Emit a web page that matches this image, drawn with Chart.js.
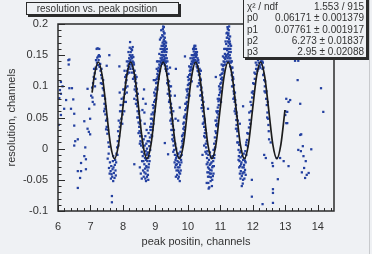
<!DOCTYPE html>
<html>
<head>
<meta charset="utf-8">
<script src="https://cdn.jsdelivr.net/npm/chart.js@4/dist/chart.umd.min.js"></script>
<style>
  html, body { margin: 0; padding: 0; background: #eff1f4; }
  canvas { display: block; }
</style>
</head>
<body>
<canvas id="chart" width="372" height="254"></canvas>
<script>
// axis ticks
const xTickValues = [6, 7, 8, 9, 10, 11, 12, 13, 14];
const yTickValues = [-0.1, -0.05, 0, 0.05, 0.1, 0.15, 0.2];

// fit box
const statNames = ['χ² / ndf', 'p0', 'p1', 'p2', 'p3'];
const statValues = ['1.553 / 915', '0.06171 ± 0.001379', '0.07761 ± 0.001917', '6.273 ± 0.01837', '2.95 ± 0.02088'];

// fitted curve
const curveX = [7.05, 7.115, 7.24, 7.365, 7.49, 7.615, 7.74, 7.865, 7.99,
  8.115, 8.24, 8.365, 8.49, 8.615, 8.74, 8.865, 8.99,
  9.115, 9.24, 9.365, 9.49, 9.615, 9.74, 9.865, 9.99,
  10.115, 10.24, 10.365, 10.49, 10.615, 10.74, 10.865, 10.99,
  11.115, 11.24, 11.365, 11.49, 11.615, 11.74, 11.865, 11.99,
  12.115, 12.24, 12.365, 12.49, 12.615, 12.74, 12.865, 12.99];
const curveY = [0.090, 0.116, 0.139, 0.116, 0.062, 0.007, -0.016, 0.007, 0.062,
  0.116, 0.139, 0.116, 0.062, 0.007, -0.016, 0.007, 0.062,
  0.116, 0.139, 0.116, 0.062, 0.007, -0.016, 0.007, 0.062,
  0.116, 0.139, 0.116, 0.062, 0.007, -0.016, 0.007, 0.062,
  0.116, 0.139, 0.116, 0.062, 0.007, -0.016, 0.007, 0.062,
  0.116, 0.139, 0.116, 0.062, 0.007, -0.016, 0.007, 0.062];

// measured points, grouped by region
const tailLeft = [[6.02,0.038],[6.04,0.081],[6.06,0.094],[6.09,0.088],[6.09,0.107],[6.14,0.100],[6.09,0.054],[6.19,0.064],
  [6.25,0.078],[6.32,0.142],[6.33,0.135],[6.35,0.143],[6.35,0.097],[6.40,0.064],[6.43,0.097],[6.47,0.079],[6.50,0.056],
  [6.50,0.037],[6.50,0.005],[6.53,0.012],[6.61,0.015],[6.61,-0.036],[6.61,-0.063],[6.68,-0.047],[6.71,-0.023],[6.71,-0.036],
  [6.81,0.044],[6.81,-0.012],[6.84,0.002],[6.86,-0.017],[6.86,-0.033],[6.91,0.032],[6.91,0.096],[6.95,0.027],[6.96,0.064],
  [6.99,0.023],[6.99,0.048],[7.07,0.075],[7.12,0.071]];

const cycle7 = [[7.05,0.098],[7.08,0.105],[7.10,0.115],[7.13,0.121],[7.15,0.112],[7.16,0.130],[7.18,0.128],[7.19,0.160],
  [7.20,0.138],[7.21,0.146],[7.22,0.161],[7.23,0.134],[7.24,0.148],[7.25,0.142],[7.26,0.150],[7.27,0.160],[7.28,0.131],
  [7.30,0.136],[7.31,0.125],[7.33,0.118],[7.35,0.113],[7.36,0.104],[7.38,0.097],[7.40,0.085],[7.41,0.094],[7.43,0.072],
  [7.44,0.064],[7.46,0.055],[7.48,0.031],[7.48,0.045],[7.50,0.133],[7.50,0.035],[7.52,0.024],[7.53,-0.016],[7.55,0.010],
  [7.57,0.003],[7.58,0.150],[7.57,-0.031],[7.60,-0.022],[7.62,-0.036],[7.64,-0.028],[7.65,-0.041],[7.66,-0.076],
  [7.66,-0.086],[7.67,-0.045],[7.68,-0.033],[7.70,-0.052],[7.70,-0.012],[7.72,-0.039],[7.74,-0.047],[7.75,-0.026],
  [7.76,-0.018],[7.78,-0.043],[7.80,-0.008],[7.82,0.002],[7.84,0.012],[7.86,0.005],[7.89,0.132],[7.88,0.020],[7.90,0.035],
  [7.92,0.041],[7.90,0.090],
  [7.02,0.085],[7.06,0.082],[7.11,0.128],[7.14,0.100],[7.17,0.142],[7.29,0.148],[7.32,0.105],[7.34,0.128],[7.37,0.085],
  [7.39,0.110],[7.42,0.060],[7.45,0.080],[7.47,0.068],[7.51,0.048],[7.54,0.030],[7.56,-0.008],[7.59,-0.040],[7.63,-0.048],
  [7.69,-0.020],[7.71,-0.030],[7.77,-0.035],[7.79,-0.022],[7.83,-0.010],[7.85,0.028],[7.87,0.045],[7.91,0.060],[7.93,0.070]];

const cycle8 = [[7.95,0.048],[7.97,0.060],[7.99,0.055],[8.00,0.070],[8.02,0.082],[8.03,0.075],[8.05,0.095],[8.06,0.088],
  [8.08,0.106],[8.09,0.098],[8.10,0.118],[8.11,0.110],[8.13,0.125],[8.14,0.120],[8.15,0.133],[8.16,0.128],[8.17,0.140],
  [8.18,0.136],[8.19,0.145],[8.20,0.131],[8.21,0.150],[8.22,0.171],[8.22,0.139],[8.23,0.142],[8.24,0.155],[8.25,0.148],
  [8.25,0.135],[8.26,0.146],[8.27,0.138],[8.28,0.158],[8.28,0.145],[8.29,0.132],[8.30,0.163],[8.30,0.140],[8.31,0.128],
  [8.32,0.147],[8.33,0.122],[8.34,0.135],[8.35,0.115],[8.36,0.125],[8.37,0.108],[8.38,0.100],[8.39,0.112],[8.40,0.092],
  [8.41,0.085],[8.42,0.078],[8.43,0.096],[8.44,0.068],[8.45,0.060],[8.46,0.074],[8.47,0.050],[8.48,0.042],[8.49,0.056],
  [8.50,0.035],[8.51,0.028],[8.52,0.040],[8.53,0.020],[8.54,0.012],[8.55,0.025],[8.56,0.005],[8.05,0.125],[8.12,0.090],
  [8.35,0.080],[8.42,0.115],[8.60,0.062],[8.62,0.080],[8.65,0.095],[8.66,0.058],[8.70,0.072],
  [8.58,-0.005],[8.60,0.010],[8.61,-0.012],[8.62,0.002],[8.63,-0.020],[8.64,0.015],[8.65,-0.008],[8.66,-0.025],[8.67,0.005],
  [8.68,-0.015],[8.68,-0.032],[8.69,0.020],[8.70,-0.004],[8.70,-0.040],[8.71,-0.018],[8.72,0.008],[8.72,-0.028],[8.73,-0.010],
  [8.74,-0.045],[8.74,0.000],[8.75,-0.020],[8.76,-0.035],[8.76,0.012],[8.77,-0.006],[8.78,-0.015],[8.78,-0.050],[8.79,0.025],
  [8.80,-0.025],[8.81,0.004],[8.82,-0.012],[8.83,0.018],[8.84,-0.002],[8.85,0.030],[8.86,0.010],[8.87,0.040],[8.88,0.022],
  [8.52,-0.030],[8.55,-0.040],[8.58,-0.048],[8.35,-0.025],
  [7.96,0.080],[7.98,0.040],[8.01,0.095],[8.04,0.060],[8.07,0.115],[8.09,0.075],[8.12,0.140],[8.14,0.100],[8.17,0.155],
  [8.19,0.122],[8.21,0.162],[8.23,0.128],[8.26,0.160],[8.27,0.122],[8.29,0.150],[8.31,0.112],[8.33,0.138],[8.36,0.095],
  [8.38,0.118],[8.40,0.072],[8.41,0.105],[8.44,0.050],[8.46,0.088],[8.48,0.025],[8.50,0.060],[8.52,0.008],[8.54,0.045],
  [8.57,0.020],[8.59,-0.020],[8.62,-0.035],[8.64,-0.045],[8.66,-0.038],[8.69,-0.048],[8.71,-0.052],[8.73,-0.030],
  [8.75,-0.008],[8.77,-0.042],[8.79,-0.030],[8.80,0.012],[8.82,-0.020],[8.84,0.035],[8.86,0.048],[8.88,0.055],[8.73,0.030],
  [8.67,0.040]];

const cycle9 = [[8.89,0.035],[8.90,0.048],[8.91,0.030],[8.92,0.058],[8.93,0.045],[8.94,0.065],[8.95,0.055],[8.96,0.075],
  [8.97,0.068],[8.98,0.085],[8.99,0.078],[9.00,0.095],[9.01,0.088],[9.02,0.105],[9.03,0.098],[9.04,0.112],[9.05,0.106],
  [9.06,0.120],[9.07,0.115],[9.08,0.125],[9.09,0.118],[9.10,0.130],[9.11,0.124],[9.12,0.135],[9.13,0.128],[9.14,0.140],
  [9.15,0.133],[9.16,0.145],[9.17,0.138],[9.18,0.150],[9.19,0.142],[9.20,0.155],[9.20,0.136],[9.21,0.160],[9.21,0.146],
  [9.22,0.170],[9.22,0.140],[9.23,0.165],[9.23,0.150],[9.24,0.196],[9.24,0.180],[9.24,0.143],[9.25,0.188],[9.25,0.158],
  [9.25,0.137],[9.26,0.175],[9.26,0.148],[9.27,0.168],[9.27,0.140],[9.28,0.185],[9.28,0.155],[9.29,0.162],[9.29,0.134],
  [9.30,0.172],[9.30,0.145],[9.31,0.150],[9.31,0.128],[9.32,0.165],[9.32,0.138],[9.33,0.140],[9.34,0.155],[9.34,0.125],
  [9.35,0.132],[9.36,0.118],[9.37,0.128],[9.38,0.110],[9.39,0.120],[9.40,0.102],[9.41,0.095],[9.42,0.108],[9.43,0.085],
  [9.44,0.078],[9.45,0.092],[9.46,0.066],[9.47,0.058],[9.48,0.072],[9.49,0.048],[9.50,0.040],[9.51,0.055],[9.52,0.030],
  [9.53,0.022],[9.54,0.036],[9.55,0.012],[9.56,0.005],[9.57,0.018],[9.14,0.175],[9.18,0.190],[9.35,0.160],[9.45,0.130],
  [9.05,0.140],[8.95,0.110],[9.48,0.100],[9.55,0.060],[9.63,0.128],[9.60,0.085],[9.62,0.048],
  [9.58,-0.002],[9.60,-0.010],[9.61,0.008],[9.62,-0.018],[9.63,-0.026],[9.64,0.000],[9.65,-0.035],[9.66,-0.012],
  [9.67,-0.042],[9.68,-0.020],[9.69,-0.030],[9.70,-0.048],[9.71,-0.008],[9.72,-0.022],[9.73,-0.038],[9.74,-0.014],
  [9.75,-0.052],[9.76,-0.026],[9.77,-0.005],[9.78,-0.035],[9.79,-0.018],[9.80,0.002],[9.81,-0.010],[9.82,0.012],
  [9.83,0.004],[9.84,0.022],[9.85,0.015],[9.86,0.032],[9.87,0.025],[9.29,0.009],[9.39,-0.009],[9.75,0.066],[9.70,0.045],
  [8.90,0.020],[8.92,0.070],[8.94,0.040],[8.96,0.090],[8.98,0.060],[9.00,0.110],[9.02,0.080],[9.04,0.128],[9.06,0.095],
  [9.08,0.140],[9.10,0.112],[9.12,0.152],[9.14,0.125],[9.16,0.160],[9.17,0.178],[9.19,0.165],[9.21,0.182],[9.22,0.155],
  [9.23,0.192],[9.24,0.165],[9.25,0.172],[9.26,0.195],[9.26,0.160],[9.27,0.185],[9.28,0.142],[9.29,0.178],[9.30,0.158],
  [9.31,0.165],[9.32,0.150],[9.33,0.170],[9.33,0.125],[9.35,0.145],[9.36,0.105],[9.37,0.140],[9.38,0.088],[9.40,0.120],
  [9.42,0.075],[9.44,0.100],[9.46,0.045],[9.47,0.085],[9.49,0.030],[9.50,0.065],[9.52,0.015],[9.53,0.045],[9.55,-0.005],
  [9.57,0.030],[9.59,-0.022],[9.61,-0.030],[9.63,-0.045],[9.64,-0.015],[9.66,-0.025],[9.68,-0.008],[9.70,-0.035],
  [9.72,-0.045],[9.74,-0.030],[9.76,-0.040],[9.78,-0.012],[9.80,-0.022],[9.82,0.020],[9.84,0.008],[9.86,0.040],[9.88,0.050]];

const cycle10 = [[9.88,0.042],[9.89,0.035],[9.90,0.052],[9.91,0.148],[9.92,0.062],[9.93,0.055],[9.94,0.072],[9.95,0.065],
  [9.96,0.082],[9.97,0.075],[9.98,0.092],[9.99,0.086],[10.00,0.102],[10.01,0.096],[10.02,0.110],[10.03,0.104],[10.04,0.118],
  [10.05,0.112],[10.06,0.125],[10.07,0.120],[10.08,0.130],[10.09,0.126],[10.10,0.136],[10.11,0.131],[10.12,0.140],
  [10.13,0.135],[10.14,0.145],[10.15,0.138],[10.16,0.150],[10.17,0.142],[10.18,0.156],[10.19,0.146],[10.20,0.165],
  [10.20,0.138],[10.21,0.152],[10.22,0.160],[10.23,0.142],[10.24,0.155],[10.25,0.147],[10.26,0.136],[10.27,0.150],
  [10.28,0.140],[10.29,0.130],[10.30,0.145],[10.31,0.132],[10.32,0.124],[10.33,0.138],[10.34,0.118],[10.35,0.126],
  [10.36,0.110],[10.37,0.120],[10.38,0.102],[10.39,0.112],[10.40,0.094],[10.41,0.086],[10.42,0.098],[10.43,0.078],
  [10.44,0.070],[10.45,0.082],[10.46,0.060],[10.47,0.052],[10.48,0.066],[10.49,0.042],[10.50,0.035],[10.51,0.048],
  [10.52,0.025],[10.53,0.018],[10.54,0.030],[10.55,0.008],[10.05,0.085],[10.30,0.100],[10.40,0.125],[10.62,0.064],[10.12,0.108],
  [10.56,0.002],[10.57,-0.008],[10.58,0.012],[10.59,-0.015],[10.60,-0.004],[10.61,-0.022],[10.62,-0.030],[10.63,-0.010],
  [10.64,-0.038],[10.65,-0.018],[10.66,-0.045],[10.67,-0.026],[10.68,-0.006],[10.69,-0.034],[10.70,-0.052],[10.71,-0.014],
  [10.72,-0.040],[10.73,-0.022],[10.74,-0.060],[10.75,-0.030],[10.76,-0.012],[10.77,-0.044],[10.78,-0.020],[10.79,-0.002],
  [10.80,-0.028],[10.81,0.008],[10.82,-0.010],[10.83,0.018],[10.84,0.002],[10.85,0.028],[10.86,0.012],[10.87,0.038],
  [10.64,-0.064],[10.58,-0.055],[10.50,0.020],[10.45,-0.010],
  [9.90,0.030],[9.92,0.072],[9.94,0.048],[9.96,0.095],[9.98,0.068],[10.00,0.115],[10.02,0.088],[10.04,0.132],[10.06,0.105],
  [10.08,0.145],[10.10,0.118],[10.12,0.150],[10.14,0.128],[10.16,0.160],[10.18,0.140],[10.19,0.162],[10.21,0.142],
  [10.22,0.150],[10.23,0.165],[10.25,0.160],[10.26,0.152],[10.27,0.132],[10.28,0.155],[10.30,0.125],[10.32,0.142],
  [10.34,0.105],[10.36,0.128],[10.38,0.085],[10.40,0.110],[10.42,0.065],[10.44,0.090],[10.46,0.040],[10.48,0.075],
  [10.50,0.005],[10.52,0.045],[10.54,-0.005],[10.56,0.025],[10.58,-0.025],[10.60,-0.038],[10.62,-0.045],[10.63,-0.055],
  [10.65,-0.032],[10.66,-0.062],[10.68,-0.040],[10.70,-0.024],[10.71,-0.046],[10.73,-0.035],[10.75,-0.050],[10.77,-0.028],
  [10.79,-0.040],[10.81,-0.015],[10.83,0.000],[10.85,0.045],[10.87,0.025]];

const cycle11 = [[10.86,0.115],[10.88,0.045],[10.89,0.036],[10.90,0.058],[10.91,0.050],[10.92,0.066],[10.93,0.060],
  [10.94,0.076],[10.95,0.070],[10.96,0.086],[10.97,0.080],[10.98,0.095],[10.99,0.090],[11.00,0.104],[11.01,0.098],
  [11.02,0.075],[11.02,0.112],[11.03,0.106],[11.04,0.120],[11.05,0.114],[11.06,0.127],[11.07,0.121],[11.08,0.133],
  [11.09,0.128],[11.10,0.140],[11.11,0.134],[11.12,0.146],[11.13,0.139],[11.14,0.152],[11.15,0.144],[11.16,0.160],
  [11.17,0.148],[11.18,0.168],[11.19,0.150],[11.20,0.178],[11.20,0.140],[11.21,0.186],[11.21,0.158],[11.22,0.195],
  [11.22,0.145],[11.23,0.172],[11.23,0.152],[11.24,0.182],[11.24,0.138],[11.25,0.165],[11.25,0.148],[11.26,0.190],
  [11.26,0.155],[11.27,0.176],[11.27,0.140],[11.28,0.160],[11.29,0.150],[11.30,0.168],[11.30,0.132],[11.31,0.145],
  [11.32,0.155],[11.33,0.128],[11.34,0.140],[11.35,0.118],[11.36,0.130],[11.37,0.110],[11.38,0.122],[11.39,0.100],
  [11.40,0.112],[11.41,0.092],[11.42,0.102],[11.43,0.082],[11.44,0.075],[11.45,0.090],[11.46,0.064],[11.47,0.056],
  [11.48,0.070],[11.49,0.046],[11.50,0.038],[11.51,0.052],[11.52,0.028],[11.53,0.020],[11.54,0.032],[11.55,0.010],
  [11.56,-0.002],[11.57,-0.012],[11.58,0.006],[11.59,-0.020],[11.60,-0.006],[11.61,-0.028],[11.62,-0.014],[11.63,-0.036],
  [11.64,-0.004],[11.65,-0.022],[11.66,-0.044],[11.67,-0.012],[11.68,-0.030],[11.69,-0.056],[11.70,-0.018],[11.71,-0.038],
  [11.72,-0.008],[11.73,-0.026],[11.74,-0.048],[11.75,-0.016],[11.76,-0.034],[11.77,-0.004],[11.78,-0.022],[11.79,0.006],
  [11.80,-0.010],[11.82,0.014],[11.84,0.004],[11.86,0.024],[11.97,-0.050],[11.97,-0.077],[11.70,0.068],[11.60,0.040],
  [10.88,0.060],[10.90,0.040],[10.92,0.080],[10.94,0.055],[10.96,0.100],[10.98,0.078],[11.00,0.118],[11.02,0.092],
  [11.04,0.135],[11.06,0.110],[11.08,0.148],[11.10,0.125],[11.12,0.160],[11.14,0.135],[11.16,0.172],[11.18,0.148],
  [11.19,0.185],[11.20,0.160],[11.22,0.178],[11.23,0.192],[11.24,0.160],[11.25,0.185],[11.26,0.170],[11.27,0.196],
  [11.28,0.145],[11.29,0.172],[11.30,0.180],[11.31,0.160],[11.32,0.138],[11.33,0.165],[11.35,0.140],[11.36,0.100],
  [11.37,0.130],[11.39,0.115],[11.40,0.080],[11.42,0.088],[11.44,0.060],[11.46,0.078],[11.48,0.032],[11.50,0.058],
  [11.52,0.010],[11.54,0.045],[11.56,-0.018],[11.58,-0.030],[11.60,-0.040],[11.62,-0.048],[11.64,-0.025],[11.66,-0.060],
  [11.68,-0.040],[11.70,-0.050],[11.72,-0.030],[11.74,-0.038],[11.76,-0.020],[11.78,-0.042],[11.80,0.010],[11.83,0.025]];

const cycle12 = [[11.88,0.034],[11.90,0.046],[11.92,0.040],[11.94,0.060],[11.96,0.070],[11.98,0.082],[12.00,0.092],
  [12.02,0.088],[12.04,0.104],[12.06,0.112],[12.08,0.120],[12.10,0.128],[12.12,0.134],[12.14,0.125],[12.16,0.142],
  [12.18,0.138],[12.20,0.150],[12.21,0.132],[12.22,0.145],[12.24,0.155],[12.25,0.140],[12.26,0.135],[12.28,0.148],
  [12.30,0.128],[12.32,0.118],[12.33,0.130],[12.35,0.110],[12.37,0.100],[12.39,0.090],[12.41,0.080],[12.43,0.070],
  [12.45,0.058],[12.47,0.048],[12.48,0.038],[12.50,0.015],[12.55,0.010],[12.35,-0.010],[12.40,-0.015],[12.60,-0.023],
  [12.62,-0.028],[12.74,-0.015],[12.77,-0.049],[12.62,-0.065],[12.62,-0.071],[12.30,-0.089],[12.62,-0.087],[12.84,-0.015],
  [12.95,-0.020],[13.10,-0.028],[13.03,0.041],[13.06,0.041],
  [11.89,0.058],[11.93,0.075],[11.97,0.090],[12.01,0.105],[12.05,0.122],[12.09,0.138],[12.13,0.150],[12.17,0.128],
  [12.19,0.155],[12.23,0.130],[12.27,0.155],[12.29,0.140],[12.31,0.138],[12.34,0.120],[12.36,0.092],[12.38,0.108],
  [12.42,0.092],[12.44,0.050],[12.46,0.075],[12.49,0.028]];

const tailRight = [[13.00,0.060],[13.00,0.054],[13.03,0.080],[13.06,0.059],[13.10,0.075],[13.15,0.078],[13.30,0.141],
  [13.40,0.141],[13.38,0.110],[13.46,0.072],[13.46,0.022],[13.49,0.023],[13.54,0.004],[13.48,-0.004],[13.80,-0.001],
  [13.56,-0.012],[13.63,-0.020],[13.58,-0.031],[13.51,-0.038],[13.72,-0.039],[13.61,-0.047],[13.66,-0.042],[14.10,0.097],
  [14.17,0.059],[13.40,-0.002]];

const bg = '#eff1f4';
const ink = '#2b2b2b';

const points = [].concat(tailLeft, cycle7, cycle8, cycle9, cycle10, cycle11, cycle12, tailRight)
  .map(p => ({ x: p[0], y: p[1] }));
const curve = curveX.map((x, i) => ({ x: x, y: curveY[i] }));

function shadowBox(ctx, x0, y0, x1, y1) {
  ctx.fillStyle = bg;
  ctx.fillRect(x0, y0, x1 - x0, y1 - y0);
  ctx.strokeStyle = ink;
  ctx.lineWidth = 1;
  ctx.strokeRect(x0 + 0.5, y0 + 0.5, x1 - x0 - 1, y1 - y0 - 1);
  ctx.fillStyle = ink;
  ctx.fillRect(x1, y0 + 2, 2, y1 - y0);
  ctx.fillRect(x0 + 2, y1, x1 - x0, 2);
}

const framePlugin = {
  id: 'frame',
  afterDatasetsDraw(chart) {
    const { ctx, chartArea: a, scales } = chart;
    const xs = scales.x, ys = scales.y;
    ctx.save();
    ctx.strokeStyle = ink;
    ctx.lineWidth = 1.5;
    ctx.strokeRect(a.left, a.top, a.right - a.left, a.bottom - a.top);
    ctx.lineWidth = 1;
    ctx.beginPath();
    for (let i = 0; i <= 42; i++) {
      const px = Math.round(xs.getPixelForValue(6 + i * 0.2)) + 0.5;
      const len = i % 5 === 0 ? 6 : 3;
      ctx.moveTo(px, a.bottom);
      ctx.lineTo(px, a.bottom - len);
    }
    for (let i = 0; i <= 30; i++) {
      const py = Math.round(ys.getPixelForValue(-0.1 + i * 0.01)) + 0.5;
      const len = i % 5 === 0 ? 7 : 3.5;
      ctx.moveTo(a.left, py);
      ctx.lineTo(a.left + len, py);
    }
    ctx.stroke();
    ctx.restore();
  },
  afterDraw(chart) {
    const ctx = chart.ctx;
    ctx.save();
    // title box
    shadowBox(ctx, 26, 2, 179, 15);
    ctx.fillStyle = '#333';
    ctx.font = '10px "Liberation Sans", Arial, sans-serif';
    ctx.textAlign = 'center';
    ctx.textBaseline = 'middle';
    ctx.fillText('resolution vs. peak position', 97, 9);
    // stats box
    shadowBox(ctx, 243, -2, 367, 58);
    ctx.fillStyle = '#333';
    statNames.forEach((name, i) => {
      const y = 7.5 + i * 11.2;
      ctx.textAlign = 'left';
      ctx.fillText(name, 247, y);
      ctx.textAlign = 'right';
      ctx.fillText(statValues[i], 364, y);
    });
    // canvas edge
    ctx.strokeStyle = '#c8cacd';
    ctx.beginPath();
    ctx.moveTo(369.5, 0);
    ctx.lineTo(369.5, 254);
    ctx.stroke();
    ctx.restore();
  }
};

const tickFont = { family: '"Liberation Sans", Arial, sans-serif', size: 11 };

new Chart(document.getElementById('chart'), {
  type: 'scatter',
  data: {
    datasets: [
      {
        label: 'fit',
        data: curve,
        showLine: true,
        borderColor: '#1c1c1c',
        borderWidth: 1.7,
        pointRadius: 0,
        cubicInterpolationMode: 'monotone',
        order: 0
      },
      {
        label: 'points',
        data: points,
        backgroundColor: '#2340a0',
        borderWidth: 0,
        pointStyle: 'rect',
        pointRadius: 1.6,
        order: 1
      }
    ]
  },
  options: {
    responsive: false,
    animation: false,
    events: [],
    layout: { padding: { left: 0, right: 38, top: 24, bottom: 0 } },
    plugins: { legend: { display: false }, tooltip: { enabled: false } },
    scales: {
      x: {
        type: 'linear',
        min: 6,
        max: 14.5,
        grid: { display: false, drawTicks: false },
        border: { display: false },
        afterBuildTicks: s => { s.ticks = xTickValues.map(v => ({ value: v })); },
        afterFit: s => { s.height = 43; },
        ticks: { color: '#333', font: tickFont, padding: 9, maxRotation: 0 },
        title: {
          display: true,
          text: 'peak positin, channels',
          color: '#333',
          font: tickFont,
          padding: { top: 0, bottom: 5 }
        }
      },
      y: {
        type: 'linear',
        min: -0.1,
        max: 0.2,
        grid: { display: false, drawTicks: false },
        border: { display: false },
        afterBuildTicks: s => { s.ticks = yTickValues.map(v => ({ value: v })); },
        afterFit: s => { s.width = 58; },
        ticks: { color: '#333', font: tickFont, padding: 10, callback: v => String(v) },
        title: {
          display: true,
          text: 'resolution, channels',
          color: '#333',
          font: tickFont,
          padding: { top: 5, bottom: 0 }
        }
      }
    }
  },
  plugins: [framePlugin]
});
</script>
</body>
</html>
